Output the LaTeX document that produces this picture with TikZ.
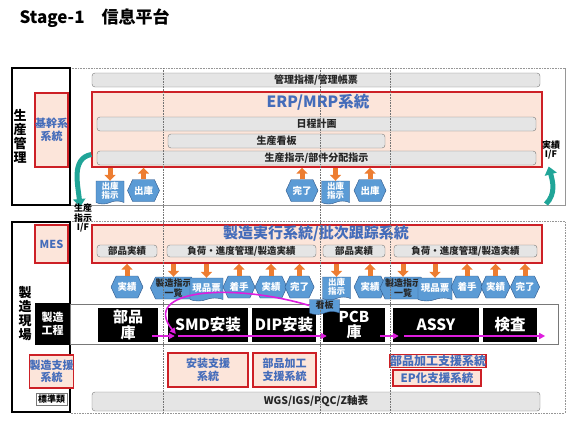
\documentclass[tikz,border=0pt]{standalone}
\usepackage{fontspec}
\setmainfont{Noto Sans CJK JP}
\usetikzlibrary{arrows.meta,shapes.symbols}

\definecolor{txtblue}{RGB}{68,108,186}
\definecolor{boxred}{RGB}{205,32,38}
\definecolor{boxpink}{RGB}{252,229,218}
\definecolor{barfill}{RGB}{229,229,229}
\definecolor{barline}{RGB}{120,120,120}
\definecolor{shpblue}{RGB}{91,155,213}
\definecolor{shpline}{RGB}{45,85,135}
\definecolor{arrorange}{RGB}{237,125,49}
\definecolor{ifteal}{RGB}{32,165,152}
\definecolor{flowmag}{RGB}{222,30,222}
\definecolor{framegray}{RGB}{150,150,150}

\tikzset{
  leftbox/.style={draw=black, line width=1.2pt, inner sep=0pt},
  vtext/.style={align=center, inner sep=0pt, font=\fontsize{13}{14}\selectfont\bfseries},
  redbox/.style={draw=boxred, line width=1.4pt, fill=boxpink, inner sep=0pt, align=center,
    text=txtblue, font=\fontsize{11}{12.5}\selectfont\bfseries},
  greybar/.style={draw=barline, fill=barfill, rounded corners=3pt, inner sep=0pt,
    text=black!85, font=\fontsize{10}{11}\selectfont\bfseries},
  blackbox/.style={fill=black, inner sep=0pt, align=center, text=white,
    font=\fontsize{15.5}{16}\selectfont\bfseries},
  dispnode/.style={signal, signal to=west and east, signal pointer angle=130,
    draw=shpline, fill=shpblue, inner sep=0pt, minimum width=32pt, minimum height=22pt,
    text=white, align=center, font=\fontsize{9.5}{10}\selectfont\bfseries},
  docnode/.style={tape, tape bend top=none, tape bend height=3pt,
    draw=shpline, fill=shpblue, inner sep=0pt, minimum width=28pt, minimum height=23pt,
    text=white, align=center, font=\fontsize{8.5}{9}\selectfont\bfseries},
  orarrow/.style={draw=arrorange, line width=5pt, -{Triangle[width=11pt,length=6pt]}},
  ifarrow/.style={draw=ifteal, line width=5pt, -{Triangle[width=12pt,length=8pt]}},
  flowarrow/.style={draw=flowmag, line width=1.6pt, -{Triangle[width=6pt,length=6pt]}},
  framedot/.style={draw=framegray, densely dotted, line width=0.6pt},
  frameline/.style={draw=framegray, line width=0.8pt},
  smalltxt/.style={align=center, inner sep=0pt, text=black!85, font=\fontsize{9}{9.5}\selectfont\bfseries}
}

\begin{document}
\begin{tikzpicture}[x=1pt,y=-1pt]
\useasboundingbox (0,0) rectangle (569,420);

\node[anchor=west, font=\fontsize{17}{20}\selectfont\bfseries] (title) at (16,18) {Stage-1\quad 信息平台};

% frames
\draw[framedot] (70,68) -- (565,68);
\draw[frameline] (565,68) -- (565,205) -- (70,205);
\draw[framedot] (70,221) -- (565,221) -- (565,413) -- (70,413);

\node[leftbox, minimum width=58pt, minimum height=137pt] (mgmt) at (41,136.5) {};
\node[vtext] (mgmttxt) at (20,136) {生\\産\\管\\理};
\node[leftbox, minimum width=58pt, minimum height=190pt] (site) at (41,317) {};
\node[vtext] (sitetxt) at (25,314) {製\\造\\現\\場};

\node[redbox, minimum width=33pt, minimum height=74pt] (kikan) at (51.5,130) {基幹系\\系統};
\node[redbox, minimum width=33pt, minimum height=38pt] (mes) at (51.5,244) {MES};
\node[blackbox, minimum width=35pt, minimum height=42pt, font=\fontsize{11}{12.5}\selectfont\bfseries] (koutei) at (52.5,324) {製造\\工程};
\node[redbox, minimum width=33pt, minimum height=33pt] (support) at (51.5,371.5) {製造支援\\系統};
\node[draw=barline, fill=white, inner sep=0pt, minimum width=31pt, minimum height=12pt,
  font=\fontsize{9}{9}\selectfont\bfseries] (hyoujun) at (51.5,399) {標準類};

% upper: ERP
\node[greybar, minimum width=448pt, minimum height=14pt] (kpi) at (316,80) {管理指標/管理帳票};
\node[redbox, minimum width=450pt, minimum height=75pt] (erp) at (317,129.5) {};
\node[text=txtblue, font=\fontsize{15.5}{16}\selectfont\bfseries] (erptitle) at (318,102) {ERP/MRP系統};
\node[greybar, minimum width=439pt, minimum height=14pt] (plan) at (316.5,124) {日程計画};
\node[greybar, minimum width=217pt, minimum height=14pt] (kanban) at (276.5,141) {生産看板};
\node[greybar, minimum width=439pt, minimum height=14pt] (order) at (316.5,158) {生産指示/部件分配指示};

\node[docnode] (u1) at (110,191) {出庫\\指示};
\node[dispnode] (u2) at (143.5,190.5) {出庫};
\node[dispnode] (u3) at (302,190.5) {完了};
\node[docnode] (u4) at (335.5,191) {出庫\\指示};
\node[dispnode] (u5) at (370,190.5) {出庫};

\draw[orarrow] (u1.north |- erp.south) -- (u1.north);
\draw[orarrow] (u2.north) -- (u2.north |- erp.south);
\draw[orarrow] (u3.north) -- (u3.north |- erp.south);
\draw[orarrow] (u4.north |- erp.south) -- (u4.north);
\draw[orarrow] (u5.north) -- (u5.north |- erp.south);

% I/F arrows
\coordinate (ifL) at (80,207);
\coordinate (ifR) at (546,204);
\draw[ifarrow] ([yshift=-25pt]erp.west) to[out=190,in=95] (ifL);
\draw[ifarrow] (ifR) to[out=45,in=-75] ([xshift=6pt,yshift=-37pt]erp.east);
\node[smalltxt, text=black] (ifLtxt) at (83,218) {生産\\指示\\I/F};
\node[smalltxt, text=black] (ifRtxt) at (551,150) {実績\\I/F};

% lower: MES
\node[redbox, minimum width=450pt, minimum height=38pt] (mesbox) at (317,244) {};
\node[text=txtblue, font=\fontsize{15}{16}\selectfont\bfseries] (mestitle) at (316,233) {製造実行系統/批次跟踪系統};
\node[greybar, minimum width=60pt, minimum height=12pt, font=\fontsize{9.5}{10}\selectfont\bfseries] (m1) at (127,251) {部品実績};
\node[greybar, minimum width=149pt, minimum height=12pt, font=\fontsize{9.5}{10}\selectfont\bfseries] (m2) at (241.5,251) {負荷・進度管理/製造実績};
\node[greybar, minimum width=62pt, minimum height=12pt, font=\fontsize{9.5}{10}\selectfont\bfseries] (m3) at (354,251) {部品実績};
\node[greybar, minimum width=143pt, minimum height=12pt, font=\fontsize{9.5}{10}\selectfont\bfseries] (m4) at (465.5,251) {負荷・進度管理/製造実績};

\node[dispnode] (s1) at (127,287) {実績};
\node[dispnode, minimum width=35pt, text=black!85, font=\fontsize{9}{9.5}\selectfont\bfseries] (s2) at (173.5,288) {製造指示\\一覧};
\node[docnode, minimum width=33pt, font=\fontsize{9.5}{10}\selectfont\bfseries] (s3) at (206.5,288) {現品票};
\node[dispnode] (s4) at (239,287) {着手};
\node[dispnode] (s5) at (271,287) {実績};
\node[dispnode, minimum width=28pt] (s6) at (299.5,287) {完了};
\node[docnode] (s8) at (336.5,287) {出庫\\指示};
\node[dispnode] (s9) at (370,287) {実績};
\node[dispnode, minimum width=33pt, text=black!85, font=\fontsize{9}{9.5}\selectfont\bfseries] (s10) at (403,288) {製造指示\\一覧};
\node[docnode, minimum width=34pt, font=\fontsize{9.5}{10}\selectfont\bfseries] (s11) at (435,288) {現品票};
\node[dispnode] (s12) at (467,287) {着手};
\node[dispnode, minimum width=29pt] (s13) at (495.5,287) {実績};
\node[dispnode, minimum width=29pt] (s14) at (525,287) {完了};

\foreach \s in {s1,s4,s5,s6,s9,s12,s13,s14}
  \draw[orarrow] (\s.north) -- (\s.north |- mesbox.south);
\foreach \s in {s2,s3,s8,s10,s11}
  \draw[orarrow] (\s.north |- mesbox.south) -- (\s.north);

% process row
\node[draw=barline, line width=0.8pt, minimum width=488pt, minimum height=40pt, inner sep=0pt] (procrow) at (314,324) {};
\node[blackbox, minimum width=60pt, minimum height=34pt, font=\fontsize{15}{15.5}\selectfont\bfseries] (p1) at (128,325) {部品\\庫};
\node[blackbox, minimum width=80pt, minimum height=34pt] (p2) at (208,325) {SMD安装};
\node[blackbox, minimum width=64pt, minimum height=34pt] (p3) at (284,325) {DIP安装};
\node[blackbox, minimum width=62pt, minimum height=34pt, font=\fontsize{15}{15.5}\selectfont\bfseries] (p4) at (354,325) {PCB\\庫};
\node[blackbox, minimum width=86pt, minimum height=34pt] (p5) at (436,325) {ASSY};
\node[blackbox, minimum width=54pt, minimum height=34pt] (p6) at (510,325) {検査};
\node[docnode, minimum width=30pt, minimum height=15pt, text=black!85, font=\fontsize{9}{9.5}\selectfont\bfseries] (s7) at (324.5,305.5) {看板};

\draw[flowarrow] ([xshift=-6pt,yshift=-11pt]p1.east) -- ([xshift=7pt,yshift=-11pt]p2.west);
\draw[flowarrow] ([xshift=10pt,yshift=-11pt]p2.west) -- ([xshift=4pt,yshift=-11pt]p4.west);
\draw[flowarrow] ([xshift=-5pt,yshift=-11pt]p4.east) -- ([xshift=6pt,yshift=-11pt]p5.west);
\draw[flowarrow] ([xshift=11pt,yshift=-11pt]p5.west) -- ([xshift=8pt,yshift=-11pt]p6.east);
\draw[flowarrow] (s7.west) .. controls (230,282) and (140,290) .. ([xshift=8pt,yshift=-9pt]p2.west);

% support systems
\node[redbox, minimum width=80pt, minimum height=34pt] (sp1) at (208,370) {安装支援\\系統};
\node[redbox, minimum width=63pt, minimum height=34pt] (sp2) at (284.5,370) {部品加工\\支援系統};
\node[redbox, minimum width=86pt, minimum height=13pt, font=\fontsize{12}{12}\selectfont\bfseries] (sp3) at (438,361) {部品加工支援系統};
\node[redbox, minimum width=88pt, minimum height=16pt, font=\fontsize{11.5}{12}\selectfont\bfseries] (sp4) at (437,378) {EP化支援系統};
\node[greybar, minimum width=448pt, minimum height=19pt, font=\fontsize{10.5}{11}\selectfont\bfseries] (wgs) at (316,401.5) {WGS/IGS/PQC/Z軸表};

% dotted guides
\foreach \gx in {163,320,390}
  \draw[framedot, draw=black!55] (\gx,68) -- (\gx,413);
\end{tikzpicture}
\end{document}
